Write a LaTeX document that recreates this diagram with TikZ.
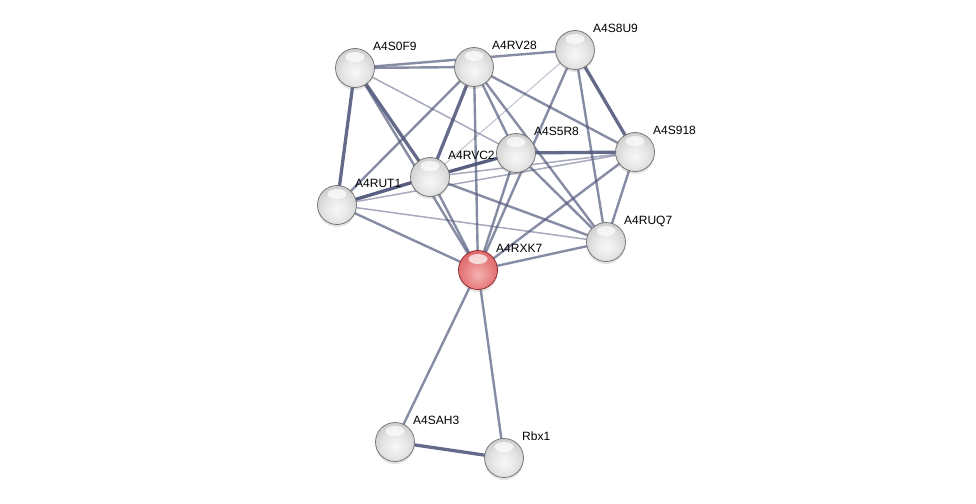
\documentclass[tikz,border=0pt]{standalone}
\usepackage{fontspec}
\setmainfont{Liberation Sans}
\usetikzlibrary{shadows}
\definecolor{edgec}{RGB}{78,86,122}
\definecolor{outl}{RGB}{110,110,110}
\definecolor{routl}{RGB}{140,30,35}
\pgfdeclareradialshading{greyball}{\pgfpoint{0bp}{-6bp}}{color(0bp)=(white!97!black); color(16bp)=(white!90!black); color(30bp)=(white!80!black); color(42bp)=(white!68!black); color(50bp)=(white!52!black); color(100bp)=(white!52!black)}
\pgfdeclareradialshading{redball}{\pgfpoint{0bp}{-6bp}}{color(0bp)=(rgb,255:red,244;green,178;blue,178); color(18bp)=(rgb,255:red,232;green,128;blue,128); color(34bp)=(rgb,255:red,216;green,92;blue,95); color(46bp)=(rgb,255:red,190;green,56;blue,60); color(50bp)=(rgb,255:red,160;green,35;blue,40); color(100bp)=(rgb,255:red,160;green,35;blue,40)}
\pgfdeclarelayer{edges}
\pgfsetlayers{edges,main}
\tikzset{
  protein/.style={circle, minimum size=39pt, inner sep=0pt, shading=greyball, draw=outl, line width=0.7pt,
    drop shadow={opacity=0.22, shadow xshift=0pt, shadow yshift=-2.5pt},
    path picture={\fill[white,opacity=0.7] ([yshift=11pt]path picture bounding box.center) ellipse (9.5pt and 5pt);}},
  seed/.style={protein, shading=redball, draw=routl},
  lbl/.style={anchor=base west, inner sep=0pt, font=\fontsize{12}{14}\selectfont, text=black},
  ethick/.style={draw=edgec, line width=3.3pt, opacity=0.88},
  emed/.style={draw=edgec, line width=2.4pt, opacity=0.68},
  ethin/.style={draw=edgec, line width=1.5pt, opacity=0.5},
  evthin/.style={draw=edgec, line width=1.1pt, opacity=0.33},
}
\begin{document}
\begin{tikzpicture}[x=1pt,y=-1pt]
\useasboundingbox (0,0) rectangle (976,503);
% nodes
\node[protein] (s0f9) at (355,68) {};
\node[protein] (rv28) at (474,67) {};
\node[protein] (s8u9) at (575,50) {};
\node[protein] (s5r8) at (516,153) {};
\node[protein] (s918) at (635,152) {};
\node[protein] (rvc2) at (430,177) {};
\node[protein] (rut1) at (337,205) {};
\node[protein] (ruq7) at (606,242) {};
\node[seed]    (rxk7) at (478,270) {};
\node[protein] (sah3) at (395,442) {};
\node[protein] (rbx1) at (504,458) {};
% labels
\node[lbl] (l0f9) at ([xshift=18pt,yshift=17.5pt]s0f9.center) {A4S0F9};
\node[lbl] (lv28) at ([xshift=18pt,yshift=17.5pt]rv28.center) {A4RV28};
\node[lbl] (l8u9) at ([xshift=18pt,yshift=17.5pt]s8u9.center) {A4S8U9};
\node[lbl] (l5r8) at ([xshift=18pt,yshift=17.5pt]s5r8.center) {A4S5R8};
\node[lbl] (l918) at ([xshift=18pt,yshift=17.5pt]s918.center) {A4S918};
\node[lbl] (lvc2) at ([xshift=18pt,yshift=17.5pt]rvc2.center) {A4RVC2};
\node[lbl] (lut1) at ([xshift=18pt,yshift=17.5pt]rut1.center) {A4RUT1};
\node[lbl] (luq7) at ([xshift=18pt,yshift=17.5pt]ruq7.center) {A4RUQ7};
\node[lbl] (lxk7) at ([xshift=18pt,yshift=17.5pt]rxk7.center) {A4RXK7};
\node[lbl] (lah3) at ([xshift=18pt,yshift=17.5pt]sah3.center) {A4SAH3};
\node[lbl] (lbx1) at ([xshift=18pt,yshift=17.5pt]rbx1.center) {Rbx1};
% edges
\begin{pgfonlayer}{edges}
\fill[white] (0,0) rectangle (976,503);
\draw[ethick] (s0f9.center) -- (rut1.center);
\draw[ethick] (s0f9.center) -- (rvc2.center);
\draw[ethick] (rv28.center) -- (rvc2.center);
\draw[ethick] (s8u9.center) -- (s918.center);
\draw[ethick] (s5r8.center) -- (s918.center);
\draw[ethick, opacity=0.95] (rvc2.center) -- (s5r8.center);
\draw[ethick, opacity=0.95] (rut1.center) -- (rvc2.center);
\draw[ethick] (sah3.center) -- (rbx1.center);
\draw[emed] (s0f9.center) -- (rv28.center);
\draw[emed] (s0f9.center) -- (s8u9.center);
\draw[emed] (s0f9.center) -- (rxk7.center);
\draw[emed] (rv28.center) -- (rxk7.center);
\draw[emed] (rv28.center) -- (s5r8.center);
\draw[emed] (rv28.center) -- (rut1.center);
\draw[emed] (rv28.center) -- (s918.center);
\draw[emed] (rv28.center) -- (ruq7.center);
\draw[emed] (s8u9.center) -- (ruq7.center);
\draw[emed] (s8u9.center) -- (rxk7.center);
\draw[emed] (s5r8.center) -- (rxk7.center);
\draw[emed] (s5r8.center) -- (ruq7.center);
\draw[emed] (rvc2.center) -- (rxk7.center);
\draw[emed] (rvc2.center) -- (ruq7.center);
\draw[emed] (rut1.center) -- (rxk7.center);
\draw[emed] (rxk7.center) -- (ruq7.center);
\draw[emed] (s918.center) -- (ruq7.center);
\draw[emed] (s918.center) -- (rxk7.center);
\draw[emed] (rxk7.center) -- (sah3.center);
\draw[emed] (rxk7.center) -- (rbx1.center);
\draw[ethin] (s0f9.center) -- (s5r8.center);
\draw[ethin] (rvc2.center) -- (s918.center);
\draw[ethin] (rut1.center) -- (s918.center);
\draw[ethin] (rut1.center) -- (ruq7.center);
\draw[evthin] (s8u9.center) -- (rvc2.center);
\end{pgfonlayer}
\end{tikzpicture}
\end{document}
